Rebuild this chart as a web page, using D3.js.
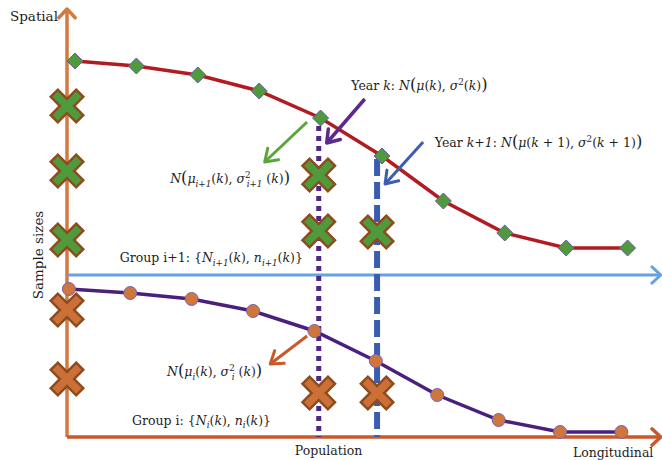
<!DOCTYPE html>
<html>
<head>
<meta charset="utf-8">
<script src="https://cdn.jsdelivr.net/npm/d3@7"></script>
<style>
body { margin: 0; background: #fff; }
svg { display: block; }
text { font-family: "DejaVu Serif", serif; fill: #1e1e1e; }
</style>
</head>
<body>
<div id="chart"></div>
<script>
// group i+1 curve (green diamonds), x in years, y in sample size units
var upperX = [0.13, 1.13, 2.13, 3.13, 4.13, 5.13, 6.13, 7.13, 8.13, 9.13];
var upperY = [94, 92.75, 90.5, 86.5, 79.75, 70.25, 59, 51, 47.25, 47.25];
// group i curve (orange circles)
var lowerX = [0.03, 1.03, 2.03, 3.03, 4.03, 5.03, 6.03, 7.03, 8.03, 9.03];
var lowerY = [37, 36, 34.5, 31.5, 26.5, 19, 10.5, 4.25, 1.25, 1.25];
// sampled units
var greenCrossX = [0, 0, 0, 4.1, 4.1, 5.05];
var greenCrossY = [82.75, 66.5, 49.25, 65.5, 51.5, 51.25];
var orangeCrossX = [0, 0, 4.1, 5.05];
var orangeCrossY = [31.75, 14.5, 11, 11];
// year k / year k+1 cuts
var yearX = [4.1, 5.05];
var yearTop = [77.75, 69.5];
var yearColor = ["#4f2683", "#3a5db0"];
var yearDash = ["5,5", "17,6"];
var groupSplit = 40.5;
var axisTop = 107, axisRight = 9.67;

var width = 662, height = 460;
var svg = d3.select("#chart").append("svg")
    .attr("width", width)
    .attr("height", height);

var x = d3.scaleLinear().domain([0, 10]).range([67, 681]);
var y = d3.scaleLinear().domain([0, 100]).range([437, 37]);

function chevron(x1, y1, x2, y2, color, w, len, ang) {
    var a = Math.atan2(y2 - y1, x2 - x1);
    svg.append("line")
        .attr("x1", x1).attr("y1", y1).attr("x2", x2).attr("y2", y2)
        .attr("stroke", color).attr("stroke-width", w);
    var pts = [[x2 - len * Math.cos(a - ang), y2 - len * Math.sin(a - ang)], [x2, y2],
               [x2 - len * Math.cos(a + ang), y2 - len * Math.sin(a + ang)]];
    svg.append("path")
        .attr("d", d3.line()(pts))
        .attr("fill", "none")
        .attr("stroke", color)
        .attr("stroke-width", w)
        .attr("stroke-linecap", "round")
        .attr("stroke-linejoin", "round");
}

// axes
chevron(x(0), y(0), x(0), y(axisTop), "#d27a40", 3.5, 12, 0.75);
chevron(x(0), y(groupSplit), x(axisRight), y(groupSplit), "#64a2e3", 3, 12, 0.75);
chevron(x(0), y(0), x(axisRight), y(0), "#c8592a", 3.5, 12, 0.75);

// year lines
yearX.forEach(function(d, i) {
    svg.append("line")
        .attr("x1", x(d)).attr("x2", x(d))
        .attr("y1", y(yearTop[i])).attr("y2", y(0))
        .attr("stroke", yearColor[i])
        .attr("stroke-width", i == 0 ? 5 : 6)
        .attr("stroke-dasharray", yearDash[i]);
});

// curves
var line = d3.line().x(function(d) { return x(d[0]); }).y(function(d) { return y(d[1]); });
svg.append("path")
    .attr("d", line(d3.zip(upperX, upperY)))
    .attr("fill", "none").attr("stroke", "#b31b22").attr("stroke-width", 3.5);
svg.append("path")
    .attr("d", line(d3.zip(lowerX, lowerY)))
    .attr("fill", "none").attr("stroke", "#4a1f7d").attr("stroke-width", 3.5);

// crosses
var crossPath = "M-5,-18H5V-5H18V5H5V18H-5V5H-18V-5H-5Z";
function crosses(xs, ys, fill) {
    svg.append("g").selectAll("path")
        .data(d3.zip(xs, ys))
        .enter().append("path")
        .attr("d", crossPath)
        .attr("transform", function(d) { return "translate(" + x(d[0]) + "," + y(d[1]) + ") rotate(45)"; })
        .attr("fill", fill)
        .attr("stroke", "#8e4c1e")
        .attr("stroke-width", 2.5)
        .attr("stroke-linejoin", "miter");
}
crosses(greenCrossX, greenCrossY, "#4f9a3c");
crosses(orangeCrossX, orangeCrossY, "#cc7038");

// markers
svg.append("g").selectAll("path")
    .data(d3.zip(upperX, upperY))
    .enter().append("path")
    .attr("d", "M0,-8L8,0L0,8L-8,0Z")
    .attr("transform", function(d) { return "translate(" + x(d[0]) + "," + y(d[1]) + ")"; })
    .attr("fill", "#4f9a3c")
    .attr("stroke", "#6a5aa8")
    .attr("stroke-width", 1);
svg.append("g").selectAll("circle")
    .data(d3.zip(lowerX, lowerY))
    .enter().append("circle")
    .attr("cx", function(d) { return x(d[0]); })
    .attr("cy", function(d) { return y(d[1]); })
    .attr("r", 6.5)
    .attr("fill", "#d0763c")
    .attr("stroke", "#7563b5")
    .attr("stroke-width", 1);

// annotation arrows
chevron(x(3.91), y(78.75), x(3.22), y(68.75), "#5aa63c", 3, 14, 0.6);
chevron(x(4.85), y(84.5), x(4.23), y(73.5), "#5a2a8e", 3.5, 14, 0.6);
chevron(x(5.8), y(73.75), x(5.18), y(63.25), "#3c5eb2", 3, 14, 0.6);
chevron(x(3.91), y(25.25), x(3.31), y(18.25), "#c8592a", 3, 14, 0.6);

// text with math parts: [text, flags, dx] flags: i italic, _ sub, ^ sup, b big
function mathText(px, py, parts, size) {
    var t = svg.append("text").attr("x", px).attr("y", py).attr("font-size", size);
    var shift = 0;
    parts.forEach(function(p) {
        var f = p[1] || "";
        var target = f.indexOf("_") >= 0 ? size * 0.3 : f.indexOf("^") >= 0 ? -size * 0.42 : 0;
        var sp = t.append("tspan").attr("dy", target - shift).text(p[0]);
        shift = target;
        if (f.indexOf("i") >= 0) sp.attr("font-style", "italic");
        if (f.indexOf("_") >= 0 || f.indexOf("^") >= 0) sp.attr("font-size", size * 0.7);
        if (f.indexOf("b") >= 0) sp.attr("font-size", size * 1.3).attr("font-weight", "200");
        if (p[2]) sp.attr("dx", p[2]);
    });
    return t;
}

var fs = 12.5;
mathText(x(4.63), y(86.75), [["Year "], ["k", "i"], [": "], ["N", "i"], ["(", "b"], ["μ", "i"], ["("], ["k", "i"], ["), "],
    ["σ", "i"], ["2", "^"], ["("], ["k", "i"], [")"], [")", "b"]], fs);
mathText(x(5.99), y(72.5), [["Year "], ["k+1", "i"], [": "], ["N", "i"], ["(", "b"], ["μ", "i"], ["("], ["k", "i"], [" + 1), "],
    ["σ", "i"], ["2", "^"], ["("], ["k", "i"], [" + 1)"], [")", "b"]], fs);
mathText(x(1.68), y(63.5), [["N", "i"], ["(", "b"], ["μ", "i"], ["i+1", "i_"], ["("], ["k", "i"], ["), "],
    ["σ", "i"], ["2", "^"], ["i+1", "i_", -4], [" ("], ["k", "i"], [")"], [")", "b"]], fs);
mathText(x(0.86), y(43.75), [["Group i+1: {"], ["N", "i"], ["i+1", "i_"], ["("], ["k", "i"], ["), "],
    ["n", "i"], ["i+1", "i_"], ["("], ["k", "i"], [")}"]], fs);
mathText(x(1.63), y(15.3), [["N", "i"], ["(", "b"], ["μ", "i"], ["i", "i_"], ["("], ["k", "i"], ["), "],
    ["σ", "i"], ["2", "^"], ["i", "i_", -3], [" ("], ["k", "i"], [")"], [")", "b"]], fs);
mathText(x(1.06), y(3.1), [["Group i: {"], ["N", "i"], ["i", "i_"], ["("], ["k", "i"], ["), "],
    ["n", "i"], ["i", "i_"], ["("], ["k", "i"], [")}"]], fs);

// axis titles
svg.append("text").attr("x", x(0) - 9).attr("y", y(axisTop) + 12)
    .attr("text-anchor", "end").attr("font-size", 13.5).text("Spatial");
svg.append("text").attr("transform", "translate(" + (x(0) - 24) + "," + y(45.5) + ") rotate(-90)")
    .attr("text-anchor", "middle").attr("font-size", 13.5).text("Sample sizes");
svg.append("text").attr("x", x(4.26)).attr("y", y(0) + 18)
    .attr("text-anchor", "middle").attr("font-size", 12.5).text("Population");
svg.append("text").attr("x", x(9.55)).attr("y", y(0) + 20)
    .attr("text-anchor", "end").attr("font-size", 12.5).text("Longitudinal");
</script>
</body>
</html>
